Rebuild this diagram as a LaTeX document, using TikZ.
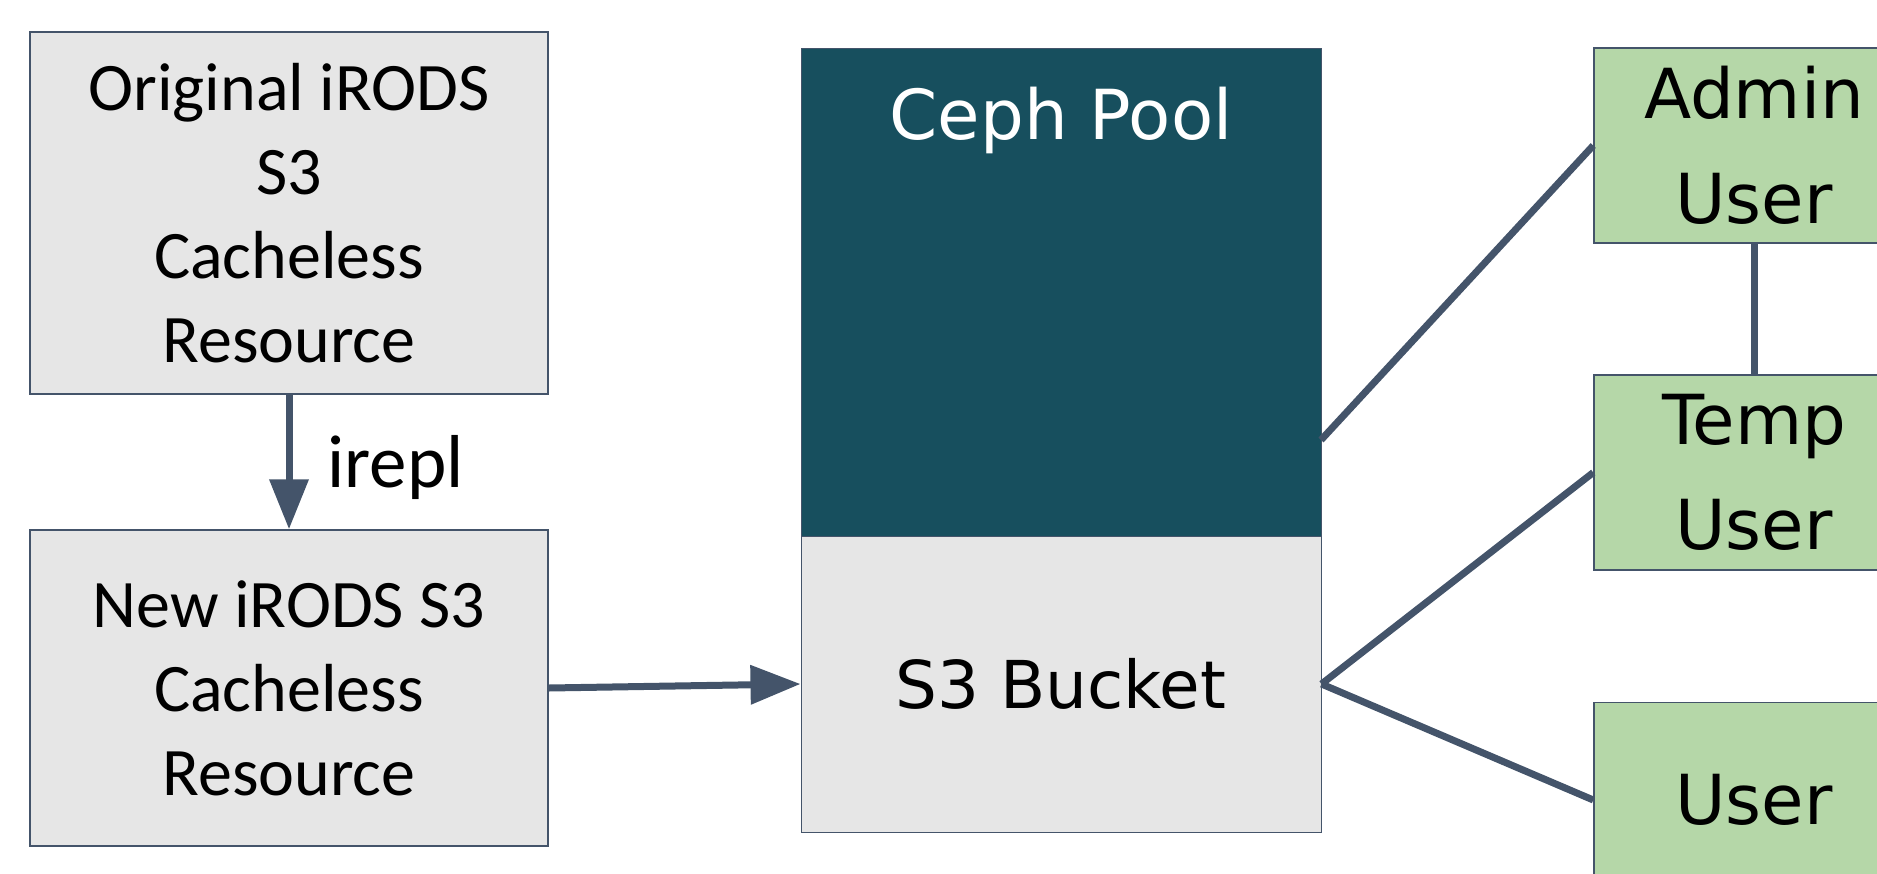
\documentclass[tikz,border=0pt]{standalone}
\usepackage{fontspec}
\setmainfont{Carlito}
\newfontfamily\wide{DejaVu Sans}
\usetikzlibrary{arrows.meta,calc}
\definecolor{boxgrey}{HTML}{E6E6E6}
\definecolor{edge}{HTML}{44546A}
\definecolor{teal}{HTML}{174F5E}
\definecolor{usergreen}{HTML}{B5D7A8}
\tikzset{
  resbox/.style={draw=edge, line width=1.5pt, fill=boxgrey, align=center, inner sep=0pt,
    font=\fontsize{68}{84}\selectfont},
  userbox/.style={draw=edge, line width=1.5pt, fill=usergreen, align=center, inner sep=0pt,
    minimum width=320pt, minimum height=195pt, font=\wide\fontsize{69}{105}\selectfont},
  link/.style={draw=edge, line width=7pt},
  flow/.style={link, -{Triangle[length=50pt,width=38pt]}},
}
\begin{document}
\begin{tikzpicture}[x=1pt,y=-1pt]
\useasboundingbox (0,0) rectangle (1877,873);
\clip (0,0) rectangle (1877,873);
\node[resbox, minimum width=518pt, minimum height=362pt] (orig) at (289,213)
  {Original iRODS\\S3\\Cacheless\\Resource};
\node[resbox, minimum width=518pt, minimum height=316pt] (new) at (289,688)
  {New iRODS S3\\Cacheless\\Resource};
\node[draw=edge, line width=1pt, fill=teal, minimum width=520pt, minimum height=488pt, inner sep=0pt] (ceph) at (1061,292) {};
\node[font=\wide\fontsize{69}{80}\selectfont, text=white, inner sep=0pt] (cephlabel) at (1061,120) {Ceph Pool};
\node[draw=edge, line width=1pt, fill=boxgrey, minimum width=520pt, minimum height=296pt, inner sep=0pt,
  font=\wide\fontsize{66}{80}\selectfont] (bucket) at (1061,684) {S3 Bucket};
\node[userbox] (admin) at (1754,145.5) {Admin\\User};
\node[userbox] (temp) at (1754,472.5) {Temp\\User};
\node[userbox] (user) at (1754,800) {User};
\coordinate (cephout) at (1321,440);
\draw[flow] (orig.south) -- node[right=35pt, yshift=-5pt, font=\fontsize{75}{84}\selectfont, inner sep=0pt] (irepl) {irepl} (new.north);
\draw[flow] (new.east) -- (bucket.west);
\draw[link] (cephout) -- (admin.west);
\draw[link] (bucket.east) -- (temp.west);
\draw[link] (bucket.east) -- (user.west);
\draw[link] (admin.south) -- (temp.north);
\end{tikzpicture}
\end{document}
